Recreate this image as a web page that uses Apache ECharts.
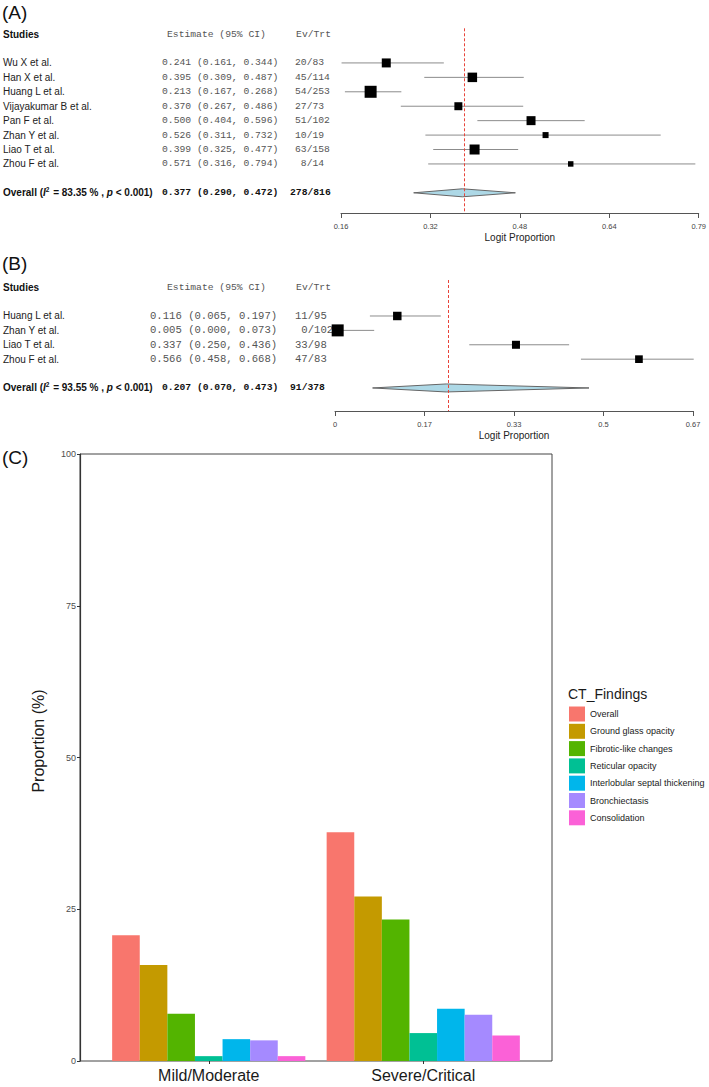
<!DOCTYPE html>
<html>
<head>
<meta charset="utf-8">
<script src="https://cdn.jsdelivr.net/npm/echarts@6/dist/echarts.min.js"></script>
<style>
  html, body { margin: 0; padding: 0; background: #fff; }
  #main { width: 709px; height: 1087px; }
</style>
</head>
<body>
<div id="main"></div>
<script>
// (A) pooled proportion, all studies
const studiesA = ['Wu X et al.', 'Han X et al.', 'Huang L et al.', 'Vijayakumar B et al.', 'Pan F et al.', 'Zhan Y et al.', 'Liao T et al.', 'Zhou F et al.'];
const estA = [0.241, 0.395, 0.213, 0.370, 0.500, 0.526, 0.399, 0.571];
const lowA = [0.161, 0.309, 0.167, 0.267, 0.404, 0.311, 0.325, 0.316];
const highA = [0.344, 0.487, 0.268, 0.486, 0.596, 0.732, 0.477, 0.794];
const evA = ['20/83', '45/114', '54/253', '27/73', '51/102', '10/19', '63/158', ' 8/14'];
const weightA = [12.9, 14.4, 23.0, 10.2, 12.9, 5.8, 16.0, 4.8];
const pooledA = [0.377, 0.290, 0.472];
const pooledEvA = '278/816';
const i2A = '83.35';
const ticksA = [0.16, 0.32, 0.48, 0.64, 0.80];
const tickLabelsA = ['0.16', '0.32', '0.48', '0.64', '0.79'];

// (B)
const studiesB = ['Huang L et al.', 'Zhan Y et al.', 'Liao T et al.', 'Zhou F et al.'];
const estB = [0.116, 0.005, 0.337, 0.566];
const lowB = [0.065, 0.000, 0.250, 0.458];
const highB = [0.197, 0.073, 0.436, 0.668];
const evB = ['11/95', ' 0/102', '33/98', '47/83'];
const weightB = [21.2, 42.5, 18.9, 17.4];
const pooledB = [0.207, 0.070, 0.473];
const pooledEvB = '91/378';
const i2B = '93.55';
const ticksB = [0, 1 / 6, 2 / 6, 3 / 6, 4 / 6];
const tickLabelsB = ['0', '0.17', '0.33', '0.5', '0.67'];

// (C) CT findings by severity
const groups = ['Mild/Moderate', 'Severe/Critical'];
const findings = ['Overall', 'Ground glass opacity', 'Fibrotic-like changes', 'Reticular opacity', 'Interlobular septal thickening', 'Bronchiectasis', 'Consolidation'];
const mild = [20.7, 15.8, 7.8, 0.8, 3.6, 3.4, 0.8];
const severe = [37.7, 27.1, 23.3, 4.6, 8.6, 7.6, 4.2];
const colors = ['#F8766D', '#C49A00', '#53B400', '#00C094', '#00B6EB', '#A58AFF', '#FB61D7'];

const SANS = 'Liberation Sans, Arial, sans-serif';
const MONO = 'Liberation Mono, Courier New, monospace';

function fmt(v) { return v.toFixed(3); }

// col: x of the estimate column for study rows / overall row, and its font size
function forestSeries(g, names, est, low, high, ev, weight, pooled, pooledEv, i2, col) {
  const maxW = Math.max(...weight);
  const n = names.length;
  const rows = names.map((s, i) => [est[i], low[i], high[i], i, weight[i]]);
  const overallRow = n + 1;

  // text table to the left of the plot
  const table = [{ row: -2, kind: 'head' }];
  names.forEach((s, i) => table.push({ row: i, kind: 'study', i: i }));
  table.push({ row: overallRow, kind: 'overall' });

  return [
    {
      type: 'custom', xAxisIndex: g, yAxisIndex: g, silent: true, z: 3,
      data: rows,
      renderItem(params, api) {
        const r = api.value(3);
        const a = api.coord([api.value(1), r]);
        const b = api.coord([api.value(2), r]);
        const c = api.coord([api.value(0), r]);
        const s = 12 * Math.sqrt(api.value(4) / maxW);
        return {
          type: 'group',
          children: [
            { type: 'line', shape: { x1: a[0], y1: a[1], x2: b[0], y2: b[1] }, style: { stroke: '#8c8c8c', lineWidth: 1 } },
            { type: 'rect', shape: { x: c[0] - s / 2, y: c[1] - s / 2, width: s, height: s }, style: { fill: '#000' } }
          ]
        };
      },
      markLine: {
        silent: true, symbol: 'none', label: { show: false },
        lineStyle: { color: '#e8443a', type: [3, 2], width: 1 },
        data: [{ xAxis: pooled[0] }]
      }
    },
    {
      type: 'custom', xAxisIndex: g, yAxisIndex: g, silent: true, z: 2,
      data: [[pooled[0], pooled[1], pooled[2], overallRow]],
      renderItem(params, api) {
        const r = api.value(3);
        const m = api.coord([api.value(0), r]);
        const l = api.coord([api.value(1), r]);
        const h = api.coord([api.value(2), r]);
        return {
          type: 'polygon',
          shape: { points: [[l[0], l[1]], [m[0], m[1] - 4], [h[0], h[1]], [m[0], m[1] + 4]] },
          style: { fill: '#add8e6', stroke: '#666', lineWidth: 1 }
        };
      }
    },
    {
      type: 'custom', xAxisIndex: g, yAxisIndex: g, silent: true,
      data: table.map(t => [pooled[0], t.row]),
      renderItem(params, api) {
        const t = table[params.dataIndex];
        const y = api.coord([pooled[0], t.row])[1];
        const kids = [];
        if (t.kind === 'head') {
          kids.push({ type: 'text', x: 3, y: y, style: { text: 'Studies', fontFamily: SANS, fontSize: 10, fontWeight: 'bold', fill: '#111', align: 'left', verticalAlign: 'middle' } });
          kids.push({ type: 'text', x: 167, y: y, style: { text: 'Estimate (95% CI)', fontFamily: MONO, fontSize: 9.7, fill: '#555', align: 'left', verticalAlign: 'middle' } });
          kids.push({ type: 'text', x: 331, y: y, style: { text: 'Ev/Trt', fontFamily: MONO, fontSize: 9.7, fill: '#555', align: 'right', verticalAlign: 'middle' } });
        } else if (t.kind === 'study') {
          const i = t.i;
          kids.push({ type: 'text', x: 3, y: y, style: { text: names[i], fontFamily: SANS, fontSize: 10, fill: '#222', align: 'left', verticalAlign: 'middle' } });
          kids.push({ type: 'text', x: col.x, y: y, style: { text: fmt(est[i]) + ' (' + fmt(low[i]) + ', ' + fmt(high[i]) + ')', fontFamily: MONO, fontSize: col.size, fill: '#555', align: 'left', verticalAlign: 'middle' } });
          kids.push({ type: 'text', x: 295, y: y, style: { text: ev[i], fontFamily: MONO, fontSize: col.size, fill: '#555', align: 'left', verticalAlign: 'middle' } });
        } else {
          kids.push({
            type: 'text', x: 3, y: y,
            style: {
              text: '{b|Overall (}{bi|I}{sup|2}{b| = ' + i2 + ' % , }{bi|p}{b| < 0.001)}',
              align: 'left', verticalAlign: 'middle',
              rich: {
                b: { fontFamily: SANS, fontSize: 10, fontWeight: 'bold', fill: '#111' },
                bi: { fontFamily: SANS, fontSize: 10, fontWeight: 'bold', fontStyle: 'italic', fill: '#111' },
                sup: { fontFamily: SANS, fontSize: 6.5, fontWeight: 'bold', fill: '#111', padding: [0, 1, 6, 0] }
              }
            }
          });
          kids.push({ type: 'text', x: 162, y: y, style: { text: fmt(pooled[0]) + ' (' + fmt(pooled[1]) + ', ' + fmt(pooled[2]) + ')', fontFamily: MONO, fontSize: 9.7, fontWeight: 'bold', fill: '#111', align: 'left', verticalAlign: 'middle' } });
          kids.push({ type: 'text', x: 290, y: y, style: { text: pooledEv, fontFamily: MONO, fontSize: 9.7, fontWeight: 'bold', fill: '#111', align: 'left', verticalAlign: 'middle' } });
        }
        return { type: 'group', children: kids };
      }
    }
  ];
}

function forestXAxis(g, min, max, ticks, labels) {
  return {
    type: 'value', gridIndex: g, min: min, max: max,
    axisLine: { show: true, onZero: false, lineStyle: { color: '#555', width: 1 } },
    axisTick: { show: true, length: 5, customValues: ticks, lineStyle: { color: '#555' } },
    axisLabel: {
      customValues: ticks, fontSize: 7.5, color: '#444', margin: 9,
      formatter: v => labels[ticks.findIndex(t => Math.abs(t - v) < 1e-6)]
    },
    splitLine: { show: false },
    name: 'Logit Proportion', nameLocation: 'middle', nameGap: 19,
    nameTextStyle: { fontSize: 10, color: '#222' }
  };
}

const chart = echarts.init(document.getElementById('main'), null, { renderer: 'svg' });

chart.setOption({
  animation: false,
  backgroundColor: '#fff',
  textStyle: { fontFamily: SANS },
  grid: [
    { left: 341, right: 10, top: 28.3, height: 184.7 },
    { left: 335, right: 16, top: 280, height: 131 },
    { left: 80, right: 157, top: 454, height: 607, show: true, borderColor: '#444', borderWidth: 1 },
    { left: 101.5, right: 178.5, top: 454, height: 607 }
  ],
  xAxis: [
    forestXAxis(0, 0.16, 0.8, ticksA, tickLabelsA),
    forestXAxis(1, 0, 4 / 6, ticksB, tickLabelsB),
    { type: 'value', gridIndex: 2, show: false },
    {
      type: 'category', gridIndex: 3, data: groups,
      axisLine: { show: false },
      axisTick: { show: true, alignWithLabel: true, length: 3, lineStyle: { color: '#333' } },
      axisLabel: { fontSize: 16, color: '#1a1a1a', margin: 6 }
    }
  ],
  yAxis: [
    { type: 'value', gridIndex: 0, inverse: true, min: -2.4, max: 10.4, show: false },
    { type: 'value', gridIndex: 1, inverse: true, min: -2.5, max: 6.6, show: false },
    {
      type: 'value', gridIndex: 2, min: 0, max: 100, interval: 25,
      axisLine: { show: true, lineStyle: { color: '#333', width: 1.2 } },
      axisTick: { show: true, length: 3, lineStyle: { color: '#333' } },
      axisLabel: { fontSize: 9, color: '#4d4d4d', margin: 4 },
      splitLine: { show: false }
    },
    { type: 'value', gridIndex: 3, min: 0, max: 100, show: false }
  ],
  legend: {
    data: findings, orient: 'vertical', left: 569, top: 706.5, padding: 0,
    itemWidth: 16, itemHeight: 15, itemGap: 2.3, icon: 'rect', selectedMode: false,
    textStyle: { fontSize: 9, color: '#1a1a1a', fontFamily: SANS }
  },
  graphic: [
    { type: 'text', x: 2, y: 12, style: { text: '(A)', fontSize: 19, fontFamily: SANS, fill: '#111', verticalAlign: 'middle' } },
    { type: 'text', x: 2, y: 263, style: { text: '(B)', fontSize: 19, fontFamily: SANS, fill: '#111', verticalAlign: 'middle' } },
    { type: 'text', x: 2, y: 457, style: { text: '(C)', fontSize: 19, fontFamily: SANS, fill: '#111', verticalAlign: 'middle' } },
    { type: 'text', x: 38, y: 741, rotation: Math.PI / 2, style: { text: 'Proportion (%)', fontSize: 16, fontFamily: SANS, fill: '#1a1a1a', align: 'center', verticalAlign: 'middle' } },
    { type: 'text', x: 568, y: 694, style: { text: 'CT_Findings', fontSize: 14, fontFamily: SANS, fill: '#1a1a1a', verticalAlign: 'middle' } }
  ],
  series: [
    ...forestSeries(0, studiesA, estA, lowA, highA, evA, weightA, pooledA, pooledEvA, i2A, { x: 162, size: 9.7 }),
    ...forestSeries(1, studiesB, estB, lowB, highB, evB, weightB, pooledB, pooledEvB, i2B, { x: 150, size: 10.6 }),
    ...findings.map((f, k) => ({
      name: f, type: 'bar', xAxisIndex: 3, yAxisIndex: 3,
      data: [mild[k], severe[k]],
      barWidth: 27.6, barGap: '0%',
      itemStyle: { color: colors[k] }
    }))
  ]
});
</script>
</body>
</html>
